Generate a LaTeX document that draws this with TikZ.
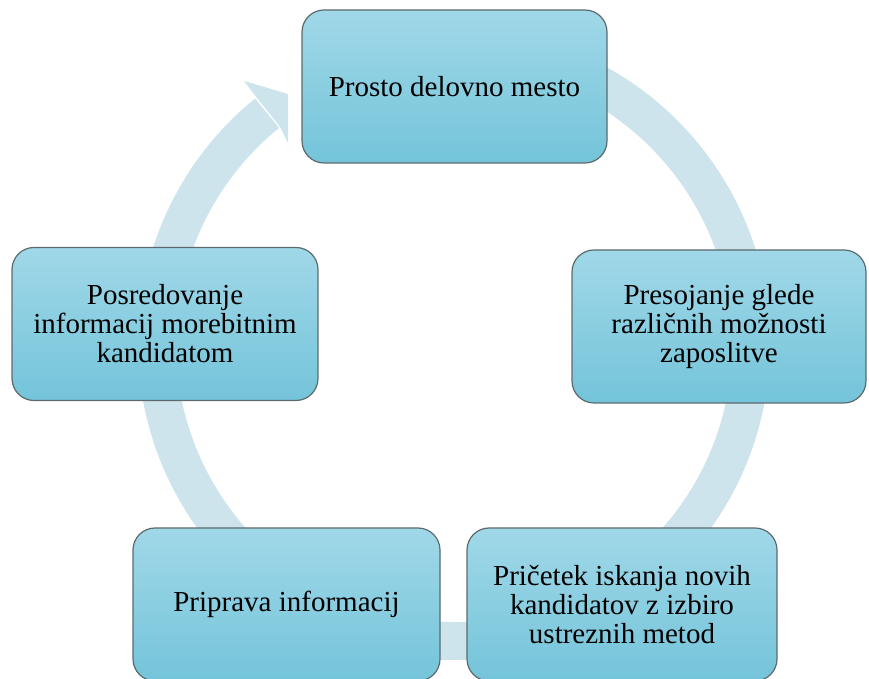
\documentclass[tikz,border=0pt]{standalone}
\usepackage{fontspec}
\setmainfont{Liberation Serif}
\usetikzlibrary{positioning}
\definecolor{ringblue}{HTML}{CDE4EC}
\definecolor{boxtop}{HTML}{A0D8E8}
\definecolor{boxbottom}{HTML}{74C4DA}
\definecolor{boxedge}{HTML}{5C6A6E}
\begin{document}
\begin{tikzpicture}[x=1pt, y=1pt,
    box/.style={draw=boxedge, line width=1.2pt, rounded corners=22pt, top color=boxtop, bottom color=boxbottom,
      minimum height=153pt, inner sep=0pt, align=center, font=\fontsize{29}{29}\selectfont},
    ring/.style={ringblue, line width=38pt}]
    \clip (0,0) rectangle (869,679);
    \coordinate (c) at (454,335);
    % ring and arrowhead behind the boxes
    \draw[ring] (c) ++(80:297) arc[start angle=80, end angle=-231, radius=297];
    \fill[ringblue] (256.5,581.7) -- (244,598) -- (288,585) -- (288,536) -- (280.2,552) -- cycle;
    \node[box, minimum width=305pt] (vacancy) at (454.5,592.5) {Prosto delovno mesto};
    \node[box, minimum width=294pt] (assess) at (719,352.5) {Presojanje glede\\različnih možnosti\\zaposlitve};
    \node[box, minimum width=310pt] (search) at (622,74.5) {Pričetek iskanja novih\\kandidatov z izbiro\\ustreznih metod};
    \node[box, minimum width=307pt] (prepare) at (286.5,74.5) {Priprava informacij};
    \node[box, minimum width=306pt] (inform) at (165,355) {Posredovanje\\informacij morebitnim\\kandidatom};
\end{tikzpicture}
\end{document}
